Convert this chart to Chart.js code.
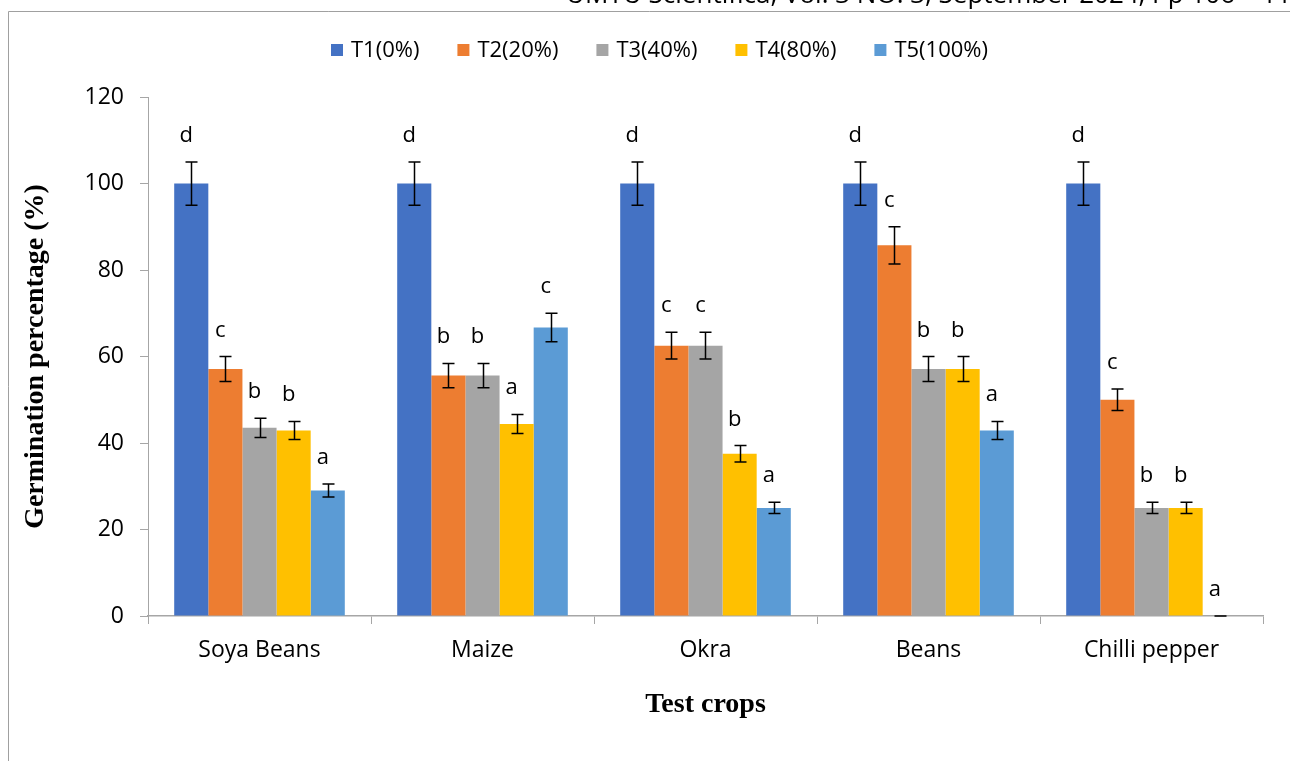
<!DOCTYPE html>
<html>
<head>
<meta charset="utf-8">
<script src="https://cdn.jsdelivr.net/npm/chart.js@4"></script>
<style>
  html, body { margin: 0; padding: 0; background: #fff; overflow: hidden; }
  #wrap { position: relative; width: 1290px; height: 761px; }
</style>
</head>
<body>
<div id="wrap"><canvas id="chart" width="1290" height="761"></canvas></div>
<script>
// data
const crops = ['Soya Beans', 'Maize', 'Okra', 'Beans', 'Chilli pepper'];
const seriesNames = ['T1(0%)', 'T2(20%)', 'T3(40%)', 'T4(80%)', 'T5(100%)'];

const t1 = [100, 100, 100, 100, 100];
const t2 = [57.1, 55.6, 62.5, 85.7, 50];
const t3 = [43.5, 55.6, 62.5, 57.1, 25];
const t4 = [42.9, 44.4, 37.5, 57.1, 25];
const t5 = [29.0, 66.7, 25.0, 42.9, 0];

const t1Err = [5, 5, 5, 5, 5];
const t2Err = [2.9, 2.8, 3.1, 4.3, 2.5];
const t3Err = [2.2, 2.8, 3.1, 2.9, 1.3];
const t4Err = [2.1, 2.2, 1.9, 2.9, 1.3];
const t5Err = [1.5, 3.3, 1.3, 2.1, 0];

const t1Letters = ['d', 'd', 'd', 'd', 'd'];
const t2Letters = ['c', 'b', 'c', 'c', 'c'];
const t3Letters = ['b', 'b', 'c', 'b', 'b'];
const t4Letters = ['b', 'a', 'b', 'b', 'b'];
const t5Letters = ['a', 'c', 'a', 'a', 'a'];

const yTicks = [0, 20, 40, 60, 80, 100, 120];

const colors = ['#4472C4', '#ED7D31', '#A5A5A5', '#FFC000', '#5B9BD5'];
const values = [t1, t2, t3, t4, t5];
const errors = [t1Err, t2Err, t3Err, t4Err, t5Err];
const letters = [t1Letters, t2Letters, t3Letters, t4Letters, t5Letters];

const FONT = '"Open Sans", "Noto Sans", sans-serif';
const AXIS_GREY = '#a6a6a6';

// frame, header line, legend, error bars and letters
const extras = {
  id: 'extras',
  beforeDraw(chart) {
    const ctx = chart.ctx;
    ctx.save();
    // page frame
    ctx.strokeStyle = '#a0a0a0';
    ctx.lineWidth = 1;
    ctx.beginPath();
    ctx.moveTo(8.5, 761);
    ctx.lineTo(8.5, 11.5);
    ctx.lineTo(1290, 11.5);
    ctx.stroke();
    // journal header, cut off at the top of the page
    ctx.fillStyle = '#000';
    ctx.font = '26px ' + FONT;
    ctx.textBaseline = 'alphabetic';
    ctx.textAlign = 'left';
    ctx.fillText('UMYU Scientifica, Vol. 3 NO. 3, September 2024, Pp 106 – 115', 566, 3);
    ctx.restore();
  },
  afterDraw(chart) {
    const ctx = chart.ctx;
    ctx.save();
    ctx.font = '22px ' + FONT;
    ctx.textBaseline = 'middle';
    ctx.textAlign = 'left';
    const box = 12, gapText = 8;
    const widths = seriesNames.map(n => ctx.measureText(n).width);
    const itemsW = widths.reduce((a, w) => a + box + gapText + w, 0);
    const total = 657;
    const gap = (total - itemsW) / (seriesNames.length - 1);
    let x = 331;
    const y = 50;
    seriesNames.forEach((n, i) => {
      ctx.fillStyle = colors[i];
      ctx.fillRect(x, y - box / 2, box, box);
      ctx.fillStyle = '#000';
      ctx.fillText(n, x + box + gapText, y + 1);
      x += box + gapText + widths[i] + gap;
    });
    ctx.restore();
  },
  afterDatasetsDraw(chart) {
    const ctx = chart.ctx;
    const yScale = chart.scales.y;
    ctx.save();
    chart.data.datasets.forEach((ds, di) => {
      const meta = chart.getDatasetMeta(di);
      meta.data.forEach((bar, i) => {
        const v = values[di][i];
        const e = errors[di][i];
        const cx = Math.round(bar.x) + 0.5;
        const yTop = yScale.getPixelForValue(v + e);
        const yBot = yScale.getPixelForValue(v - e);
        ctx.strokeStyle = '#000';
        ctx.lineWidth = 1.5;
        ctx.beginPath();
        ctx.moveTo(cx, yTop);
        ctx.lineTo(cx, yBot);
        ctx.moveTo(cx - 6, yTop);
        ctx.lineTo(cx + 6, yTop);
        ctx.moveTo(cx - 6, yBot);
        ctx.lineTo(cx + 6, yBot);
        ctx.stroke();

        ctx.fillStyle = '#000';
        ctx.font = '22px ' + FONT;
        ctx.textAlign = 'center';
        ctx.textBaseline = 'alphabetic';
        ctx.fillText(letters[di][i], bar.x - 5, yTop - 20);
      });
    });
    ctx.restore();
  }
};

new Chart(document.getElementById('chart'), {
  type: 'bar',
  data: {
    labels: crops,
    datasets: seriesNames.map((name, i) => ({
      label: name,
      data: values[i],
      backgroundColor: colors[i],
      borderWidth: 0,
      categoryPercentage: 0.765,
      barPercentage: 1
    }))
  },
  options: {
    responsive: false,
    animation: false,
    layout: { padding: { left: 0, top: 97, right: 27, bottom: 0 } },
    plugins: {
      legend: { display: false },
      tooltip: { enabled: false }
    },
    scales: {
      x: {
        afterFit: s => { s.height = 145; },
        grid: { drawOnChartArea: false, drawTicks: true, tickLength: 8, color: AXIS_GREY, offset: true },
        border: { display: true, color: AXIS_GREY, width: 1.5 },
        ticks: { color: '#000', font: { family: FONT, size: 23 }, padding: 13 },
        title: {
          display: true,
          text: 'Test crops',
          color: '#000',
          font: { family: '"Liberation Serif", "Times New Roman", serif', size: 28, weight: 'bold' },
          padding: { top: 0, bottom: 39 }
        }
      },
      y: {
        min: 0,
        max: 120,
        afterFit: s => { s.width = 148; },
        afterBuildTicks: s => { s.ticks = yTicks.map(v => ({ value: v })); },
        grid: { drawOnChartArea: false, drawTicks: true, tickLength: 8, color: AXIS_GREY },
        border: { display: true, color: AXIS_GREY, width: 1 },
        ticks: { color: '#000', font: { family: FONT, size: 23 }, padding: 16 },
        title: {
          display: true,
          text: 'Germination percentage (%)',
          color: '#000',
          font: { family: '"Liberation Serif", "Times New Roman", serif', size: 28, weight: 'bold' },
          padding: { top: 19, bottom: 0 }
        }
      }
    }
  },
  plugins: [extras]
});
</script>
</body>
</html>
